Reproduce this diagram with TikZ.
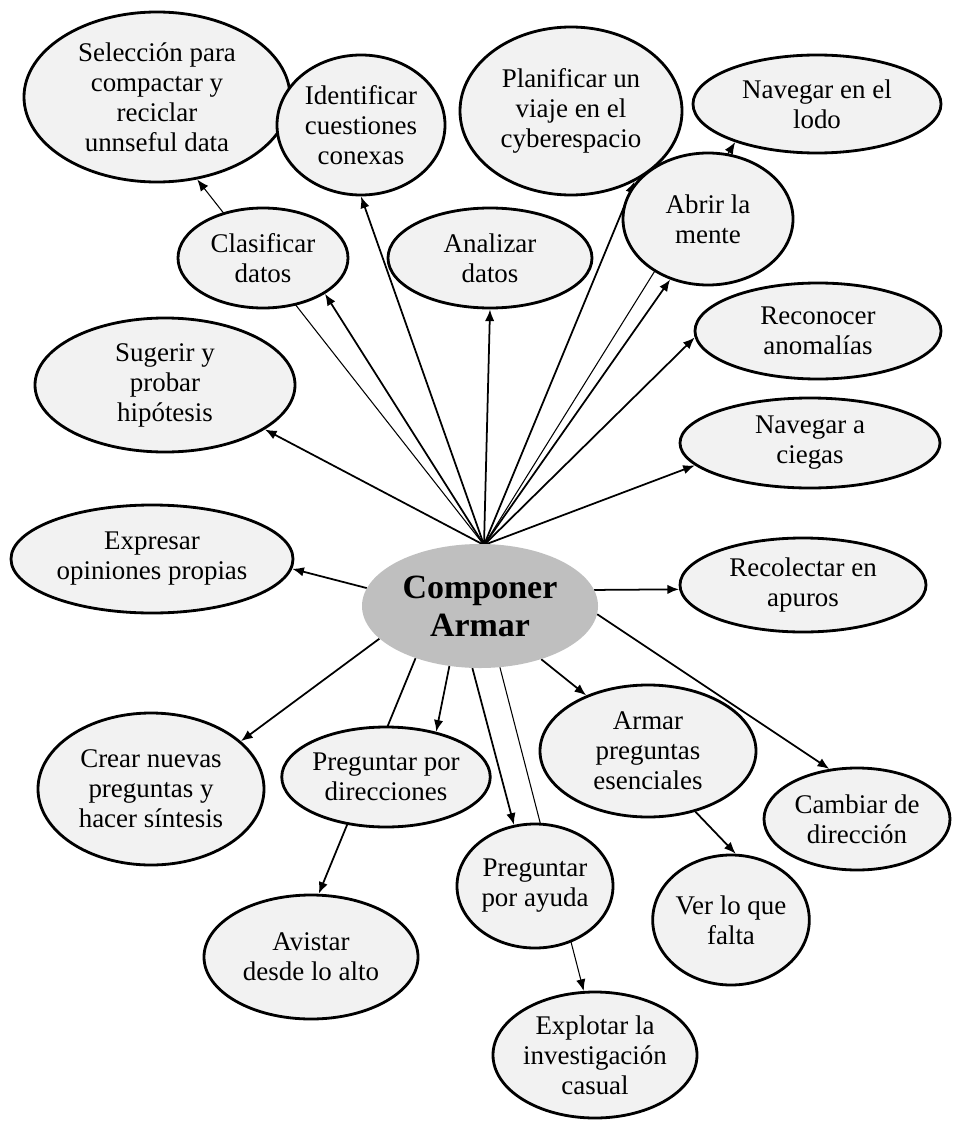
\documentclass[tikz,border=0pt]{standalone}
\usepackage{fontspec}
\setmainfont{Liberation Serif}
\usetikzlibrary{shapes.geometric,arrows.meta,backgrounds}
\definecolor{bubblegray}{HTML}{F2F2F2}
\definecolor{hubgray}{HTML}{BFBFBF}

\begin{document}
\begin{tikzpicture}[x=0.03cm,y=-0.03cm,
  idea/.style={ellipse,draw,line width=2.4pt,fill=bubblegray,align=center,inner sep=0pt,
    font=\fontsize{23}{25.6}\selectfont},
  link/.style={line width=1.5pt,-{Latex[length=10pt,width=8pt]}},
  faint/.style={line width=0.9pt,-{Latex[length=10pt,width=8pt]}}]
\useasboundingbox (0,0) rectangle (952,1124);

\node[ellipse,fill=hubgray,minimum width=7.08cm,minimum height=3.72cm,align=center,
  font=\fontsize{29}{32.4}\selectfont\bfseries] (comp) at (480,606) {Componer\\Armar};
\coordinate (hub) at (484,545);

\node[idea,minimum width=7.98cm,minimum height=5.1cm] (sel) at (157,97) {Selección para\\compactar y\\reciclar\\unnseful data};
\node[idea,minimum width=5.04cm,minimum height=4.2cm] (ident) at (361,125) {Identificar\\cuestiones\\conexas};
\node[idea,minimum width=5.1cm,minimum height=3cm] (clas) at (263,258) {Clasificar\\datos};
\node[idea,minimum width=6.66cm,minimum height=5.04cm] (plan) at (571,111) {Planificar un\\viaje en el\\cyberespacio};
\node[idea,minimum width=7.44cm,minimum height=2.94cm] (lodo) at (817,104) {Navegar en el\\lodo};
\node[idea,minimum width=5.1cm,minimum height=3.96cm] (abrir) at (708,219) {Abrir la\\mente};
\node[idea,minimum width=6.12cm,minimum height=3cm] (anal) at (490,258) {Analizar\\datos};
\node[idea,minimum width=7.38cm,minimum height=2.88cm] (anom) at (818,331) {Reconocer\\anomalías};
\node[idea,minimum width=7.8cm,minimum height=2.7cm] (ciegas) at (810,443) {Navegar a\\ciegas};
\node[idea,minimum width=7.8cm,minimum height=4.02cm] (hipo) at (165,385) {Sugerir y\\probar\\hipótesis};
\node[idea,minimum width=8.46cm,minimum height=3.24cm] (expr) at (152,559) {Expresar\\opiniones propias};
\node[idea,minimum width=7.38cm,minimum height=2.82cm] (reco) at (803,585) {Recolectar en\\apuros};
\node[idea,minimum width=6.78cm,minimum height=4.56cm] (crear) at (151,789) {Crear nuevas\\preguntas y\\hacer síntesis};
\node[idea,minimum width=6.18cm,minimum height=3cm] (dir) at (386,777) {Preguntar por\\direcciones};
\node[idea,minimum width=6.48cm,minimum height=3.96cm] (esen) at (648,751) {Armar\\preguntas\\esenciales};
\node[idea,minimum width=5.58cm,minimum height=3.06cm] (camb) at (857,819) {Cambiar de\\dirección};
\node[idea,minimum width=4.68cm,minimum height=3.72cm] (ayuda) at (535,886) {Preguntar\\por ayuda};
\node[idea,minimum width=6.42cm,minimum height=3.72cm] (avis) at (311,957) {Avistar\\desde lo alto};
\node[idea,minimum width=6.12cm,minimum height=3.78cm] (expl) at (595,1055) {Explotar la\\investigación\\casual};
\node[idea,minimum width=3.84cm,minimum height=3.9cm] (ver) at (731,920) {Ver lo que\\falta};

\begin{scope}[on background layer]
\draw[link] (hub) -- (hipo.-24);
\draw[faint] (hub) -- (sel.-64);
\draw[link] (hub) -- (clas.-30);
\draw[link] (hub) -- (ident.south);
\draw[link] (hub) -- (anal.south);
\draw[link] (hub) -- (plan.-48);
\draw[faint] (hub) -- (lodo.205);
\draw[link] (hub) -- (abrir.-122);
\draw[link] (hub) -- (anom.183);
\draw[link] (hub) -- (ciegas.191);
\draw[link] (comp.171) -- (expr.-4);
\draw[link] (comp.8) -- (reco.182);
\draw[link] (comp.198) -- (crear.28);
\draw[link] (comp.219) -- (avis.83);
\draw[link] (comp.243) -- (dir.42);
\draw[link] (comp.263) -- (ayuda.109);
\draw[faint] (comp.288) -- (expl.100);
\draw[link] (comp.319) -- (esen.138);
\draw[link] (comp.-4) -- (camb.119);
\draw[link] (esen.-52) -- (ver.86);
\end{scope}
\end{tikzpicture}
\end{document}
